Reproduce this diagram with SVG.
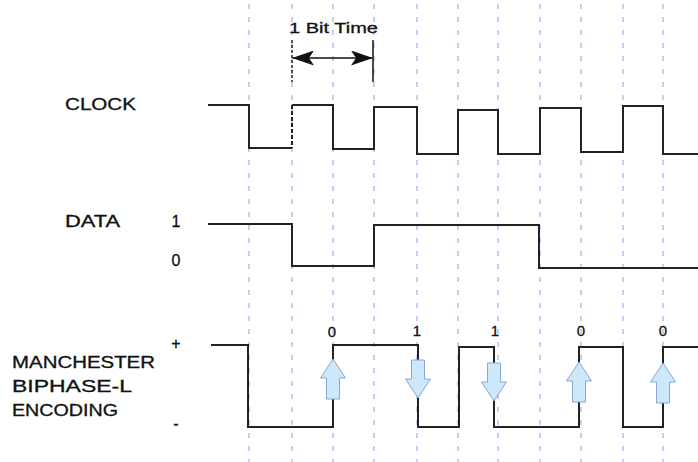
<svg xmlns="http://www.w3.org/2000/svg" width="698" height="462" viewBox="0 0 698 462">
<defs>
<style>
.grid{stroke:#cacaf6;stroke-width:2;stroke-dasharray:5 8;fill:none}
.wave{stroke:#222;stroke-width:2;fill:none;stroke-linejoin:miter}
.lbl{font-family:"Liberation Sans",Arial,sans-serif;font-size:16px;fill:#111;stroke:#111;stroke-width:0.3}
.num{font-family:"Liberation Sans",Arial,sans-serif;font-size:15px;fill:#111;stroke:#111;stroke-width:0.3;text-anchor:middle}
.big{font-size:16px}
.arr{fill:#cde8fb;stroke:#86a9cc;stroke-width:1}
</style>
<marker id="ah" viewBox="0 0 22 15" refX="21" refY="7.5" markerWidth="22" markerHeight="15" markerUnits="userSpaceOnUse" orient="auto-start-reverse">
<path d="M0,0 L22,7.5 L0,15 L5,7.5 Z" fill="#111"/>
</marker>
<path id="up" d="M0,0 L12.5,19 L6.5,19 L6.5,40 L-6.5,40 L-6.5,19 L-12.5,19 Z"/>
<path id="down" d="M0,0 L12.5,-19 L6.5,-19 L6.5,-38 L-6.5,-38 L-6.5,-19 L-12.5,-19 Z"/>
</defs>
<rect width="698" height="462" fill="#ffffff"/>
<g id="gridlines">
<line class="grid" x1="249" y1="4" x2="249" y2="462"/>
<line class="grid" x1="292" y1="4" x2="292" y2="462"/>
<line class="grid" x1="333" y1="4" x2="333" y2="462"/>
<line class="grid" x1="374" y1="4" x2="374" y2="462"/>
<line class="grid" x1="417" y1="4" x2="417" y2="462"/>
<line class="grid" x1="458" y1="4" x2="458" y2="462"/>
<line class="grid" x1="498" y1="4" x2="498" y2="462"/>
<line class="grid" x1="540" y1="4" x2="540" y2="462"/>
<line class="grid" x1="581" y1="4" x2="581" y2="462"/>
<line class="grid" x1="623" y1="4" x2="623" y2="462"/>
<line class="grid" x1="663" y1="4" x2="663" y2="462"/>
</g>
<g id="bit-time">
<line x1="292" y1="40" x2="292" y2="82" stroke="#222" stroke-width="1.5" stroke-dasharray="3 2"/>
<line x1="373" y1="40" x2="373" y2="82" stroke="#111" stroke-width="1.5"/>
<line x1="293" y1="58" x2="372" y2="58" stroke="#111" stroke-width="1.5" marker-start="url(#ah)" marker-end="url(#ah)"/>
<text class="lbl" x="289" y="33" style="font-size:15px" textLength="89" lengthAdjust="spacingAndGlyphs">1 Bit Time</text>
</g>
<g id="clock">
<text class="lbl" x="65" y="110" textLength="71" lengthAdjust="spacingAndGlyphs">CLOCK</text>
<path class="wave" d="M208,105 H249 V148 H292 M292,105 H333 V149 H374 V107 H417 V154 H458 V110 H498 V154 H540 V108 H581 V152 H623 V106 H663 V154 H698"/>
<line x1="292" y1="105" x2="292" y2="148" stroke="#222" stroke-width="2" stroke-dasharray="4 2"/>
</g>
<g id="data">
<text class="lbl" x="65" y="227" textLength="55" lengthAdjust="spacingAndGlyphs">DATA</text>
<text class="num big" x="176" y="227">1</text>
<text class="num big" x="176" y="266">0</text>
<path class="wave" d="M208,224 H292 V266 H374 V225 H539 V268 H698"/>
</g>
<g id="manchester">
<text class="lbl" x="12" y="368" textLength="143" lengthAdjust="spacingAndGlyphs">MANCHESTER</text>
<text class="lbl" x="12" y="392" textLength="120" lengthAdjust="spacingAndGlyphs">BIPHASE-L</text>
<text class="lbl" x="12" y="416" textLength="106" lengthAdjust="spacingAndGlyphs">ENCODING</text>
<text class="num big" x="176" y="349">+</text>
<text class="num big" x="176" y="429">-</text>
<path class="wave" d="M211,345 H248 V427 H333 V345 H418 V427 H459 V347 H494 V427 H579 V347 H623 V427 H663 V347 H698"/>
<text class="num" x="332" y="337">0</text>
<text class="num" x="417" y="336">1</text>
<text class="num" x="495" y="336">1</text>
<text class="num" x="581" y="336">0</text>
<text class="num" x="663" y="336">0</text>
</g>
<g id="transitions">
<use href="#up" class="arr" x="333" y="359"/>
<use href="#down" class="arr" x="418" y="398"/>
<use href="#down" class="arr" x="494" y="401"/>
<use href="#up" class="arr" x="579" y="362"/>
<use href="#up" class="arr" x="663" y="363"/>
</g>
</svg>
